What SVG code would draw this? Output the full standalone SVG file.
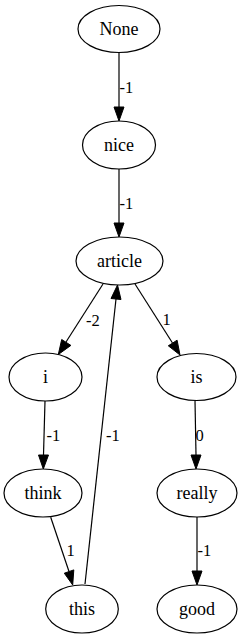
<svg xmlns="http://www.w3.org/2000/svg" width="242" height="639" viewBox="0 0 242 639">
<style>
.n ellipse{fill:#fff;stroke:#000;stroke-width:1.2}
.n text{font-family:'Liberation Serif','Times New Roman',serif;font-size:18px;text-anchor:middle;fill:#000}
.e line{stroke:#000;stroke-width:1.2}
.e polygon{fill:#000;stroke:#000;stroke-width:1}
.e text{font-family:'Liberation Serif','Times New Roman',serif;font-size:16.5px;fill:#000}
</style>
<rect width="242" height="639" fill="#fff"/>
<g id="edges" class="e">
<line x1="119" y1="52.5" x2="119" y2="107"/>
<polygon points="114,107 124,107 119,121"/>
<text x="119.5" y="92.5">-1</text>
<line x1="119" y1="169" x2="119" y2="223"/>
<polygon points="114,223 124,223 119,237"/>
<text x="119.5" y="208.5">-1</text>
<line x1="103" y1="284" x2="66" y2="342"/>
<polygon points="61.7,339.5 70.9,345.4 58.3,354.5"/>
<text x="86" y="325.5">-2</text>
<line x1="135" y1="284" x2="172.5" y2="343"/>
<polygon points="168.3,345.8 177.1,340.2 180,355"/>
<text x="162.5" y="324.5">1</text>
<line x1="45" y1="401" x2="43.5" y2="455"/>
<polygon points="38.5,455 48.5,455 43.3,469"/>
<text x="46.5" y="440.5">-1</text>
<line x1="85" y1="584" x2="116" y2="299"/>
<polygon points="111,298.5 121,299.5 117.5,285"/>
<text x="106" y="440.5">-1</text>
<line x1="50.7" y1="517.3" x2="69" y2="571.5"/>
<polygon points="64.3,573.2 73.8,569.9 72.7,585"/>
<text x="66.5" y="555.5">1</text>
<line x1="195" y1="400.5" x2="196" y2="455"/>
<polygon points="191,455 201,455 196,469"/>
<text x="195.5" y="440.5">0</text>
<line x1="197" y1="517" x2="197" y2="571"/>
<polygon points="192,571 202,571 197,585"/>
<text x="197.5" y="556">-1</text>
</g>
<g id="node-None" class="n"><ellipse cx="119" cy="29" rx="41" ry="23.5"/><text x="119" y="34.5">None</text></g>
<g id="node-nice" class="n"><ellipse cx="119" cy="145" rx="36.5" ry="24"/><text x="119" y="150.5">nice</text></g>
<g id="node-article" class="n"><ellipse cx="119.5" cy="261" rx="43.5" ry="24"/><text x="119.5" y="266.5">article</text></g>
<g id="node-i" class="n"><ellipse cx="45.5" cy="377" rx="36.5" ry="24"/><text x="45.5" y="382.5">i</text></g>
<g id="node-is" class="n"><ellipse cx="196.5" cy="377" rx="39.5" ry="23.5"/><text x="196.5" y="382.5">is</text></g>
<g id="node-think" class="n"><ellipse cx="43" cy="493" rx="39" ry="24"/><text x="43" y="498.5">think</text></g>
<g id="node-really" class="n"><ellipse cx="197" cy="493" rx="40" ry="24"/><text x="197" y="498.5">really</text></g>
<g id="node-this" class="n"><ellipse cx="82" cy="609" rx="36.3" ry="24"/><text x="82" y="614.5">this</text></g>
<g id="node-good" class="n"><ellipse cx="197" cy="609" rx="40" ry="24"/><text x="197" y="614.5">good</text></g>
</svg>
